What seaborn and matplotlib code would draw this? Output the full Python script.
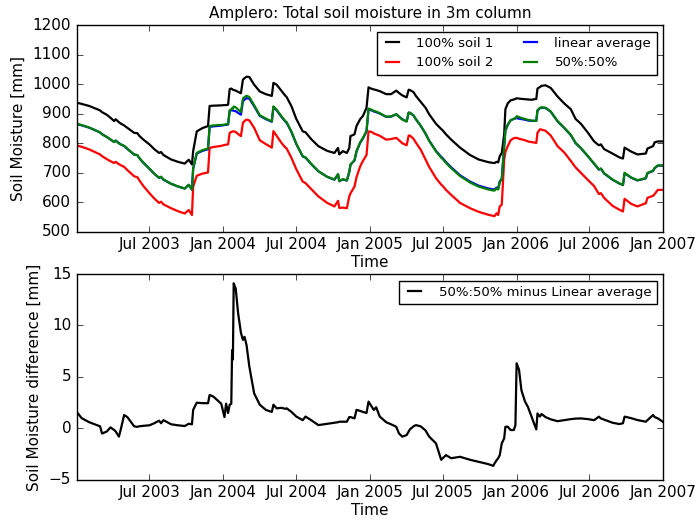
import matplotlib
matplotlib.use("Agg")
import matplotlib.pyplot as plt
import matplotlib.dates as mdates
import numpy as np
import pandas as pd
import seaborn as sns

# Daily-ish samples of total soil moisture in the 3 m column at Amplero
dates = [
    "2003-01-01", "2003-01-13", "2003-02-01", "2003-02-28", "2003-03-05", "2003-03-17",
    "2003-03-26", "2003-04-04", "2003-04-08", "2003-04-16", "2003-04-20", "2003-04-29",
    "2003-05-07", "2003-05-24", "2003-06-01", "2003-06-05", "2003-06-16", "2003-07-01",
    "2003-07-13", "2003-07-25", "2003-07-30", "2003-08-05", "2003-08-24", "2003-09-10",
    "2003-09-27", "2003-10-07", "2003-10-15", "2003-10-18", "2003-10-27", "2003-11-10",
    "2003-11-24", "2003-11-28", "2003-12-07", "2003-12-27", "2004-01-04", "2004-01-08",
    "2004-01-13", "2004-01-17", "2004-01-21", "2004-01-23", "2004-01-25", "2004-01-27",
    "2004-02-01", "2004-02-07", "2004-02-14", "2004-02-19", "2004-02-23", "2004-02-28",
    "2004-03-06", "2004-03-18", "2004-04-01", "2004-04-16", "2004-05-01", "2004-05-05",
    "2004-05-13", "2004-05-25", "2004-06-04", "2004-06-07", "2004-06-19", "2004-07-01",
    "2004-07-17", "2004-07-24", "2004-08-07", "2004-08-25", "2004-09-16", "2004-10-04",
    "2004-10-13", "2004-10-16", "2004-10-25", "2004-11-04", "2004-11-10", "2004-11-13",
    "2004-11-23", "2004-11-28", "2004-12-07", "2004-12-14", "2004-12-23", "2004-12-28",
    "2005-01-05", "2005-01-10", "2005-01-16", "2005-01-25", "2005-02-10", "2005-02-22",
    "2005-03-07", "2005-03-14", "2005-03-22", "2005-04-02", "2005-04-07", "2005-04-10",
    "2005-04-19", "2005-04-25", "2005-05-07", "2005-05-19", "2005-05-28", "2005-06-14",
    "2005-06-27", "2005-07-01", "2005-07-09", "2005-07-22", "2005-08-13", "2005-09-07",
    "2005-09-28", "2005-10-22", "2005-11-04", "2005-11-07", "2005-11-12", "2005-11-16",
    "2005-11-20", "2005-11-25", "2005-12-01", "2005-12-04", "2005-12-10", "2005-12-17",
    "2005-12-25", "2005-12-29", "2006-01-01", "2006-01-07", "2006-01-13", "2006-01-22",
    "2006-01-29", "2006-02-07", "2006-02-19", "2006-02-22", "2006-02-28", "2006-03-04",
    "2006-03-14", "2006-03-27", "2006-04-13", "2006-04-30", "2006-05-16", "2006-05-28",
    "2006-06-10", "2006-06-28", "2006-07-13", "2006-07-25", "2006-07-30", "2006-08-07",
    "2006-08-28", "2006-09-14", "2006-09-23", "2006-09-27", "2006-10-13", "2006-10-29",
    "2006-11-19", "2006-11-23", "2006-12-07", "2006-12-11", "2006-12-19", "2006-12-31",
]

# 100% soil 1 [mm]
soil1 = [
    937, 933, 926, 911, 905, 896, 886, 875, 881, 871, 867, 860,
    852, 835, 834, 826, 812, 796, 780, 767, 770, 760, 745, 737,
    731, 744, 728, 773, 840, 851, 858, 926, 927, 928, 929, 929,
    930, 983, 985, 983, 981, 980, 978, 974, 969, 1015, 1020, 1025,
    1024, 998, 975, 966, 960, 1004, 998, 977, 960, 956, 925, 882,
    840, 837, 814, 790, 774, 767, 784, 762, 773, 767, 784, 824,
    830, 858, 881, 892, 920, 989, 984, 982, 980, 976, 966, 966,
    978, 970, 962, 955, 981, 980, 973, 960, 940, 920, 898, 866,
    848, 843, 830, 812, 785, 760, 745, 736, 733, 733, 737, 735,
    756, 767, 830, 915, 935, 945, 948, 950, 952, 951, 950, 949,
    948, 947, 950, 985, 990, 994, 996, 987, 958, 934, 915, 882,
    866, 835, 806, 793, 796, 780, 765, 752, 748, 785, 772, 762,
    765, 782, 790, 803, 806, 806,
]

# 100% soil 2 [mm]
soil2 = [
    792, 788, 779, 762, 756, 746, 739, 733, 737, 729, 726, 720,
    709, 688, 685, 676, 655, 631, 613, 598, 602, 593, 580, 570,
    562, 574, 557, 653, 690, 697, 701, 784, 787, 791, 794, 795,
    796, 835, 838, 839, 840, 840, 838, 831, 824, 869, 875, 880,
    877, 852, 810, 797, 785, 841, 825, 801, 785, 782, 750, 712,
    670, 665, 645, 620, 598, 586, 605, 581, 582, 580, 620, 630,
    653, 685, 721, 740, 760, 840, 838, 833, 830, 825, 812, 814,
    818, 810, 800, 793, 826, 826, 815, 802, 778, 745, 720, 682,
    660, 655, 642, 625, 598, 580, 568, 558, 554, 553, 563, 557,
    586, 592, 744, 770, 790, 810, 817, 818, 818, 815, 813, 810,
    806, 804, 801, 835, 847, 846, 842, 826, 790, 768, 740, 718,
    700, 675, 655, 628, 631, 615, 588, 575, 569, 612, 595, 586,
    597, 615, 622, 628, 642, 642,
]

# 50%:50% mixture minus linear average [mm]
mix_minus_linear = [
    1.6, 1.0, 0.6, 0.2, -0.5, -0.3, 0.1, -0.15, -0.3, -0.8, -0.2, 1.3,
    1.1, 0.2, 0.15, 0.2, 0.25, 0.3, 0.5, 0.75, 0.5, 0.8, 0.4, 0.3,
    0.23, 0.45, 0.4, 1.8, 2.5, 2.45, 2.45, 3.25, 3.1, 2.4, 1.1, 2.4,
    1.5, 2.3, 2.4, 7.6, 6.7, 14.1, 13.6, 11.2, 9.3, 8.6, 8.9, 8.1,
    6.0, 3.4, 2.3, 1.8, 1.6, 2.3, 1.95, 2.0, 1.9, 1.95, 1.6, 1.15,
    0.8, 1.15, 0.8, 0.32, 0.45, 0.55, 0.6, 0.65, 0.65, 0.65, 1.1, 1.1,
    0.97, 1.8, 1.7, 1.6, 1.5, 2.6, 2.1, 1.8, 2.05, 1.15, 0.6, 0.4,
    0.16, -0.5, -0.8, -0.65, -0.3, -0.1, 0.2, 0.32, 0.2, -0.2, -0.8, -1.45,
    -3.05, -2.9, -2.6, -2.9, -2.76, -3.05, -3.25, -3.47, -3.64, -3.4, -3.1, -2.9,
    -2.6, -1.45, -0.97, 0.16, 0.16, -0.16, -0.16, 0.32, 6.33, 5.7, 3.7, 2.6,
    2.1, 1.15, -0.1, 1.45, 1.15, 1.4, 1.1, 0.88, 0.7, 0.8, 0.9, 0.95,
    0.97, 0.9, 0.8, 1.14, 0.97, 0.85, 0.55, 0.42, 0.5, 1.14, 1.0, 0.81,
    0.65, 0.8, 1.3, 1.1, 0.97, 0.65,
]

xtick_dates = ["2003-07-01", "2004-01-01", "2004-07-01", "2005-01-01",
               "2005-07-01", "2006-01-01", "2006-07-01", "2007-01-01"]

df = pd.DataFrame({
    "time": pd.to_datetime(dates),
    "soil1": soil1,
    "soil2": soil2,
    "diff": mix_minus_linear,
})
df["linear"] = (df["soil1"] + df["soil2"]) / 2.0
df["mix"] = df["linear"] + df["diff"]

plt.style.use("classic")
plt.rcParams["font.family"] = "DejaVu Sans"
plt.rcParams["font.size"] = 11

fig = plt.figure(figsize=(6.98, 5.21), dpi=100, facecolor="white")
ax1 = fig.add_axes([0.110, 0.555, 0.840, 0.397])
ax2 = fig.add_axes([0.110, 0.079, 0.840, 0.395])

lw = 1.6
sns.lineplot(data=df, x="time", y="soil1", ax=ax1, color="k", lw=lw,
             label="100% soil 1", estimator=None)
sns.lineplot(data=df, x="time", y="soil2", ax=ax1, color="r", lw=lw,
             label="100% soil 2", estimator=None)
sns.lineplot(data=df, x="time", y="linear", ax=ax1, color="b", lw=lw,
             label="linear average", estimator=None)
sns.lineplot(data=df, x="time", y="mix", ax=ax1, color="g", lw=lw,
             label="50%:50%", estimator=None)

sns.lineplot(data=df, x="time", y="diff", ax=ax2, color="k", lw=lw,
             label="50%:50% minus Linear average", estimator=None)

xmin = pd.Timestamp("2003-01-01")
xmax = pd.Timestamp("2007-01-01")
ticks = pd.to_datetime(xtick_dates)
for ax in (ax1, ax2):
    ax.set_xlim(xmin, xmax)
    ax.set_xticks(ticks)
    ax.xaxis.set_major_formatter(mdates.DateFormatter("%b %Y"))
    ax.set_xlabel("Time", fontsize=11, labelpad=2)
    ax.tick_params(labelsize=11)
    ax.set_facecolor("white")

ax1.set_ylim(500, 1200)
ax1.set_yticks(np.arange(500, 1201, 100))
ax1.set_ylabel("Soil Moisture [mm]", fontsize=11)
ax1.set_title("Amplero: Total soil moisture in 3m column", fontsize=11)

ax2.set_ylim(-5, 15)
ax2.set_yticks([-5, 0, 5, 10, 15])
ax2.set_ylabel("Soil Moisture difference [mm]", fontsize=11)

ax1.legend(loc="upper right", ncol=2, fontsize=9.5, handlelength=1.6,
           handletextpad=1.0, columnspacing=2.0, borderaxespad=0.5,
           fancybox=False, numpoints=2)
ax2.legend(loc="upper right", fontsize=9.5, handlelength=1.6,
           handletextpad=1.0, borderaxespad=0.5, fancybox=False, numpoints=2)

fig.savefig("out.png", dpi=100, facecolor="white")
